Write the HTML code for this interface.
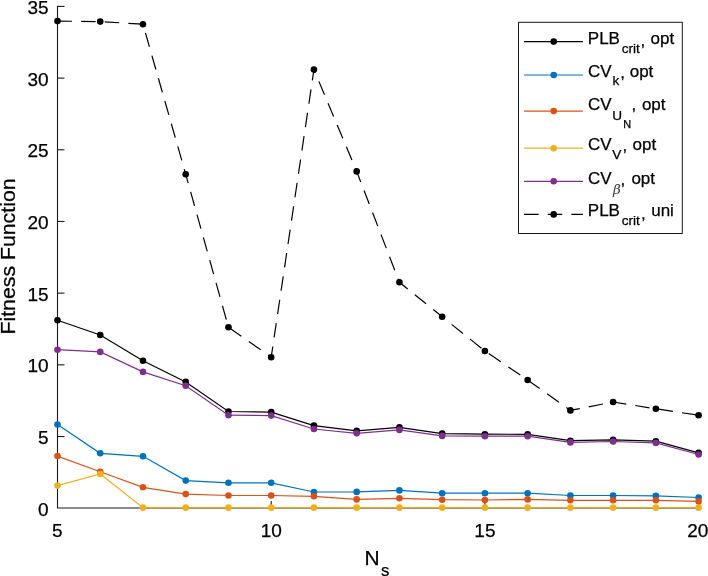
<!DOCTYPE html>
<html><head><meta charset="utf-8"><title>Fitness Function</title>
<style>
html,body{margin:0;padding:0;background:#fff;}
body{width:708px;height:576px;overflow:hidden;}
svg{display:block;font-family:"Liberation Sans",Arial,Helvetica,sans-serif;}
</style></head><body>
<svg width="708" height="576" viewBox="0 0 708 576">
<rect x="0" y="0" width="708" height="576" fill="#ffffff"/>

<g stroke="#1a1a1a" stroke-width="1.1" fill="none">
<path d="M57.5 5.85 V508.0 H698.6" stroke-linejoin="miter"/>
<path d="M57.5 436.51 h7"/>
<path d="M57.5 364.83 h7"/>
<path d="M57.5 293.14 h7"/>
<path d="M57.5 221.46 h7"/>
<path d="M57.5 149.77 h7"/>
<path d="M57.5 78.09 h7"/>
<path d="M57.5 6.40 h7"/>
<path d="M271.20 508.0 v-7"/>
<path d="M484.90 508.0 v-7"/>
<path d="M698.60 508.0 v-7"/>
</g>

<g fill="#000" stroke="#000" stroke-width="0.25" font-size="19px">
<text x="48.7" y="516.40" text-anchor="end">0</text>
<text x="48.7" y="444.13" text-anchor="end">5</text>
<text x="48.7" y="372.47" text-anchor="end">10</text>
<text x="48.7" y="300.81" text-anchor="end">15</text>
<text x="48.7" y="229.14" text-anchor="end">20</text>
<text x="48.7" y="157.48" text-anchor="end">25</text>
<text x="48.7" y="85.81" text-anchor="end">30</text>
<text x="48.7" y="14.14" text-anchor="end">35</text>
<text x="57.30" y="536.6" text-anchor="middle">5</text>
<text x="271.20" y="536.6" text-anchor="middle">10</text>
<text x="484.90" y="536.6" text-anchor="middle">15</text>
<text x="697.70" y="536.6" text-anchor="middle">20</text>
</g>

<text transform="translate(15.3,334.6) rotate(-90)" textLength="156.2" lengthAdjust="spacingAndGlyphs" font-size="20.9px" fill="#000" stroke="#000" stroke-width="0.25">Fitness Function</text>
<text x="364.6" y="565.2" font-size="20.9px" fill="#000" stroke="#000" stroke-width="0.25">N</text>
<text x="380.9" y="576" font-size="16.8px" fill="#000" stroke="#000" stroke-width="0.25">s</text>

<polyline points="57.50,320.20 100.24,335.00 142.98,360.70 185.72,381.90 228.46,411.50 271.20,412.10 313.94,425.60 356.68,430.80 399.42,427.40 442.16,433.60 484.90,434.20 527.64,434.30 570.38,440.70 613.12,439.80 655.86,441.20 698.60,452.80" fill="none" stroke="#000000" stroke-width="1.2"/>
<circle cx="57.50" cy="320.20" r="3.3" fill="#000000"/><circle cx="100.24" cy="335.00" r="3.3" fill="#000000"/><circle cx="142.98" cy="360.70" r="3.3" fill="#000000"/><circle cx="185.72" cy="381.90" r="3.3" fill="#000000"/><circle cx="228.46" cy="411.50" r="3.3" fill="#000000"/><circle cx="271.20" cy="412.10" r="3.3" fill="#000000"/><circle cx="313.94" cy="425.60" r="3.3" fill="#000000"/><circle cx="356.68" cy="430.80" r="3.3" fill="#000000"/><circle cx="399.42" cy="427.40" r="3.3" fill="#000000"/><circle cx="442.16" cy="433.60" r="3.3" fill="#000000"/><circle cx="484.90" cy="434.20" r="3.3" fill="#000000"/><circle cx="527.64" cy="434.30" r="3.3" fill="#000000"/><circle cx="570.38" cy="440.70" r="3.3" fill="#000000"/><circle cx="613.12" cy="439.80" r="3.3" fill="#000000"/><circle cx="655.86" cy="441.20" r="3.3" fill="#000000"/><circle cx="698.60" cy="452.80" r="3.3" fill="#000000"/>

<polyline points="57.50,424.50 100.24,453.30 142.98,456.30 185.72,480.60 228.46,482.80 271.20,482.80 313.94,492.00 356.68,491.90 399.42,490.40 442.16,493.20 484.90,493.20 527.64,493.20 570.38,495.50 613.12,495.50 655.86,495.80 698.60,497.50" fill="none" stroke="#0072BD" stroke-width="1.2"/>
<circle cx="57.50" cy="424.50" r="3.3" fill="#0072BD"/><circle cx="100.24" cy="453.30" r="3.3" fill="#0072BD"/><circle cx="142.98" cy="456.30" r="3.3" fill="#0072BD"/><circle cx="185.72" cy="480.60" r="3.3" fill="#0072BD"/><circle cx="228.46" cy="482.80" r="3.3" fill="#0072BD"/><circle cx="271.20" cy="482.80" r="3.3" fill="#0072BD"/><circle cx="313.94" cy="492.00" r="3.3" fill="#0072BD"/><circle cx="356.68" cy="491.90" r="3.3" fill="#0072BD"/><circle cx="399.42" cy="490.40" r="3.3" fill="#0072BD"/><circle cx="442.16" cy="493.20" r="3.3" fill="#0072BD"/><circle cx="484.90" cy="493.20" r="3.3" fill="#0072BD"/><circle cx="527.64" cy="493.20" r="3.3" fill="#0072BD"/><circle cx="570.38" cy="495.50" r="3.3" fill="#0072BD"/><circle cx="613.12" cy="495.50" r="3.3" fill="#0072BD"/><circle cx="655.86" cy="495.80" r="3.3" fill="#0072BD"/><circle cx="698.60" cy="497.50" r="3.3" fill="#0072BD"/>

<polyline points="57.50,456.10 100.24,471.70 142.98,487.30 185.72,494.10 228.46,495.50 271.20,495.50 313.94,496.30 356.68,499.40 399.42,498.30 442.16,499.70 484.90,500.00 527.64,499.40 570.38,500.30 613.12,500.30 655.86,500.30 698.60,501.40" fill="none" stroke="#D95319" stroke-width="1.2"/>
<circle cx="57.50" cy="456.10" r="3.3" fill="#D95319"/><circle cx="100.24" cy="471.70" r="3.3" fill="#D95319"/><circle cx="142.98" cy="487.30" r="3.3" fill="#D95319"/><circle cx="185.72" cy="494.10" r="3.3" fill="#D95319"/><circle cx="228.46" cy="495.50" r="3.3" fill="#D95319"/><circle cx="271.20" cy="495.50" r="3.3" fill="#D95319"/><circle cx="313.94" cy="496.30" r="3.3" fill="#D95319"/><circle cx="356.68" cy="499.40" r="3.3" fill="#D95319"/><circle cx="399.42" cy="498.30" r="3.3" fill="#D95319"/><circle cx="442.16" cy="499.70" r="3.3" fill="#D95319"/><circle cx="484.90" cy="500.00" r="3.3" fill="#D95319"/><circle cx="527.64" cy="499.40" r="3.3" fill="#D95319"/><circle cx="570.38" cy="500.30" r="3.3" fill="#D95319"/><circle cx="613.12" cy="500.30" r="3.3" fill="#D95319"/><circle cx="655.86" cy="500.30" r="3.3" fill="#D95319"/><circle cx="698.60" cy="501.40" r="3.3" fill="#D95319"/>

<polyline points="57.50,485.60 100.24,474.00 142.98,507.60 185.72,507.60 228.46,507.60 271.20,507.60 313.94,507.60 356.68,507.60 399.42,507.60 442.16,507.60 484.90,507.60 527.64,507.60 570.38,507.60 613.12,507.60 655.86,507.60 698.60,507.60" fill="none" stroke="#EDB120" stroke-width="1.2"/>
<circle cx="57.50" cy="485.60" r="3.3" fill="#EDB120"/><circle cx="100.24" cy="474.00" r="3.3" fill="#EDB120"/><circle cx="142.98" cy="507.60" r="3.3" fill="#EDB120"/><circle cx="185.72" cy="507.60" r="3.3" fill="#EDB120"/><circle cx="228.46" cy="507.60" r="3.3" fill="#EDB120"/><circle cx="271.20" cy="507.60" r="3.3" fill="#EDB120"/><circle cx="313.94" cy="507.60" r="3.3" fill="#EDB120"/><circle cx="356.68" cy="507.60" r="3.3" fill="#EDB120"/><circle cx="399.42" cy="507.60" r="3.3" fill="#EDB120"/><circle cx="442.16" cy="507.60" r="3.3" fill="#EDB120"/><circle cx="484.90" cy="507.60" r="3.3" fill="#EDB120"/><circle cx="527.64" cy="507.60" r="3.3" fill="#EDB120"/><circle cx="570.38" cy="507.60" r="3.3" fill="#EDB120"/><circle cx="613.12" cy="507.60" r="3.3" fill="#EDB120"/><circle cx="655.86" cy="507.60" r="3.3" fill="#EDB120"/><circle cx="698.60" cy="507.60" r="3.3" fill="#EDB120"/>

<polyline points="57.50,349.70 100.24,351.90 142.98,371.90 185.72,385.70 228.46,415.20 271.20,415.60 313.94,429.00 356.68,433.30 399.42,429.90 442.16,435.90 484.90,436.20 527.64,436.20 570.38,442.40 613.12,441.50 655.86,442.90 698.60,454.50" fill="none" stroke="#7E2F8E" stroke-width="1.2"/>
<circle cx="57.50" cy="349.70" r="3.3" fill="#7E2F8E"/><circle cx="100.24" cy="351.90" r="3.3" fill="#7E2F8E"/><circle cx="142.98" cy="371.90" r="3.3" fill="#7E2F8E"/><circle cx="185.72" cy="385.70" r="3.3" fill="#7E2F8E"/><circle cx="228.46" cy="415.20" r="3.3" fill="#7E2F8E"/><circle cx="271.20" cy="415.60" r="3.3" fill="#7E2F8E"/><circle cx="313.94" cy="429.00" r="3.3" fill="#7E2F8E"/><circle cx="356.68" cy="433.30" r="3.3" fill="#7E2F8E"/><circle cx="399.42" cy="429.90" r="3.3" fill="#7E2F8E"/><circle cx="442.16" cy="435.90" r="3.3" fill="#7E2F8E"/><circle cx="484.90" cy="436.20" r="3.3" fill="#7E2F8E"/><circle cx="527.64" cy="436.20" r="3.3" fill="#7E2F8E"/><circle cx="570.38" cy="442.40" r="3.3" fill="#7E2F8E"/><circle cx="613.12" cy="441.50" r="3.3" fill="#7E2F8E"/><circle cx="655.86" cy="442.90" r="3.3" fill="#7E2F8E"/><circle cx="698.60" cy="454.50" r="3.3" fill="#7E2F8E"/>

<polyline points="57.50,21.10 100.24,21.60 142.98,24.20 185.72,174.30 228.46,327.30 271.20,357.20 313.94,69.60 356.68,171.40 399.42,282.30 442.16,316.80 484.90,351.00 527.64,380.00 570.38,410.40 613.12,402.00 655.86,408.80 698.60,415.30" fill="none" stroke="#000000" stroke-width="1.2" stroke-dasharray="14.5 9.13"/>
<circle cx="57.50" cy="21.10" r="3.3" fill="#000000"/><circle cx="100.24" cy="21.60" r="3.3" fill="#000000"/><circle cx="142.98" cy="24.20" r="3.3" fill="#000000"/><circle cx="185.72" cy="174.30" r="3.3" fill="#000000"/><circle cx="228.46" cy="327.30" r="3.3" fill="#000000"/><circle cx="271.20" cy="357.20" r="3.3" fill="#000000"/><circle cx="313.94" cy="69.60" r="3.3" fill="#000000"/><circle cx="356.68" cy="171.40" r="3.3" fill="#000000"/><circle cx="399.42" cy="282.30" r="3.3" fill="#000000"/><circle cx="442.16" cy="316.80" r="3.3" fill="#000000"/><circle cx="484.90" cy="351.00" r="3.3" fill="#000000"/><circle cx="527.64" cy="380.00" r="3.3" fill="#000000"/><circle cx="570.38" cy="410.40" r="3.3" fill="#000000"/><circle cx="613.12" cy="402.00" r="3.3" fill="#000000"/><circle cx="655.86" cy="408.80" r="3.3" fill="#000000"/><circle cx="698.60" cy="415.30" r="3.3" fill="#000000"/>

<rect x="518.5" y="22.3" width="163.8" height="211.2" fill="#fff" stroke="#1a1a1a" stroke-width="1"/>
<path d="M524.1 41.6 H582.9" stroke="#000000" stroke-width="1.2"/>
<circle cx="553.7" cy="41.6" r="3.3" fill="#000000"/>
<path d="M524.1 75.0 H582.9" stroke="#0072BD" stroke-width="1.2"/>
<circle cx="553.7" cy="75.0" r="3.3" fill="#0072BD"/>
<path d="M524.1 111.1 H582.9" stroke="#D95319" stroke-width="1.2"/>
<circle cx="553.7" cy="111.1" r="3.3" fill="#D95319"/>
<path d="M524.1 148.2 H582.9" stroke="#EDB120" stroke-width="1.2"/>
<circle cx="553.7" cy="148.2" r="3.3" fill="#EDB120"/>
<path d="M524.1 181.3 H582.9" stroke="#7E2F8E" stroke-width="1.2"/>
<circle cx="553.7" cy="181.3" r="3.3" fill="#7E2F8E"/>
<path d="M524.1 214.4 H582.9" stroke="#000000" stroke-width="1.2" stroke-dasharray="14.5 9.13"/>
<circle cx="553.7" cy="214.4" r="3.3" fill="#000000"/>
<g fill="#000" stroke="#000" stroke-width="0.25" font-size="17px">
<text x="587.8" y="44.0">PLB</text>
<text x="621.7" y="52.8" font-size="13.6px">crit</text>
<text x="640.5" y="45.8">,</text>
<text x="650.5" y="44.0">opt</text>
<text x="588.0" y="76.5">CV</text>
<text x="612.6" y="85.3" font-size="13.6px">k</text>
<text x="620.2" y="78.0">,</text>
<text x="629.7" y="76.5">opt</text>
<text x="588.0" y="110.1">CV</text>
<text x="612.2" y="119.6" font-size="13.6px">U</text>
<text x="623.2" y="128.2" font-size="10.9px">N</text>
<text x="631.6" y="109.8">,</text>
<text x="641.9" y="110.1">opt</text>
<text x="588.0" y="150.0">CV</text>
<text x="612.3" y="159.0" font-size="13.6px">V</text>
<text x="622.4" y="151.4">,</text>
<text x="632.6" y="150.0">opt</text>
<text x="588.0" y="183.8">CV</text>
<text x="612.9" y="193.8" font-size="13.6px" stroke="none" fill="#333" font-style="italic" font-family="'DejaVu Serif','Liberation Serif',serif">β</text>
<text x="620.6" y="185.4">,</text>
<text x="631.4" y="183.8">opt</text>
<text x="587.8" y="216.4">PLB</text>
<text x="621.7" y="225.2" font-size="13.6px">crit</text>
<text x="640.9" y="218.6">,</text>
<text x="651.2" y="216.4">uni</text>
</g>

</svg></body></html>
